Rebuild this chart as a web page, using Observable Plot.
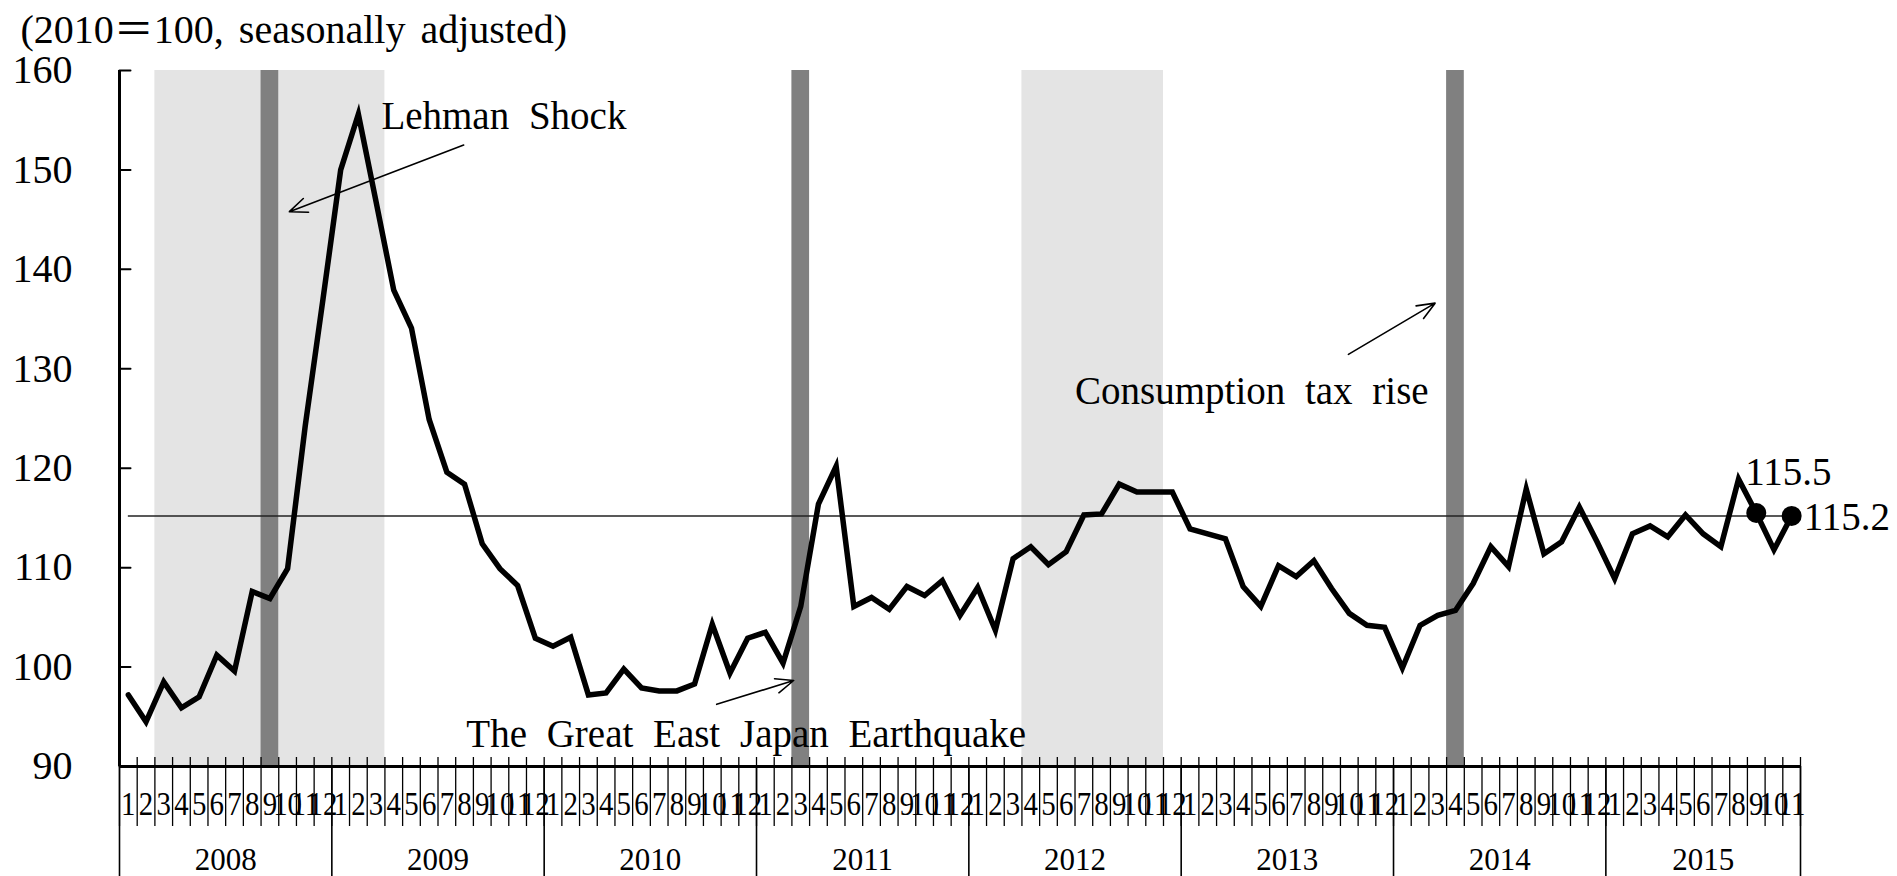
<!DOCTYPE html>
<html>
<head>
<meta charset="utf-8">
<script src="https://cdn.jsdelivr.net/npm/d3@7"></script>
<script src="https://cdn.jsdelivr.net/npm/@observablehq/plot@0.6"></script>
<style>
  html, body { margin: 0; padding: 0; background: #fff; }
</style>
</head>
<body>
<div id="chart"></div>
<script>
// ---------- data ----------
const years = [2008, 2009, 2010, 2011, 2012, 2013, 2014, 2015];
const monthsInYear = [12, 12, 12, 12, 12, 12, 12, 11];

const values2008 = [97.2, 94.5, 98.5, 95.9, 97.0, 101.2, 99.6, 107.6, 106.9, 109.9, 124.3, 137.0];
const values2009 = [150.0, 155.6, 146.8, 137.9, 134.1, 124.9, 119.6, 118.4, 112.4, 109.9, 108.2, 102.9];
const values2010 = [102.1, 103.0, 97.2, 97.4, 99.8, 97.9, 97.6, 97.6, 98.3, 104.3, 99.4, 102.9];
const values2011 = [103.5, 100.4, 106.1, 116.4, 120.2, 106.1, 107.0, 105.8, 108.1, 107.2, 108.7, 105.2];
const values2012 = [108.0, 103.7, 110.9, 112.1, 110.3, 111.6, 115.3, 115.4, 118.4, 117.6, 117.6, 117.6];
const values2013 = [113.9, 113.4, 112.9, 108.1, 106.1, 110.2, 109.1, 110.7, 107.9, 105.4, 104.2, 104.0];
const values2014 = [99.9, 104.2, 105.2, 105.7, 108.4, 112.1, 110.1, 117.9, 111.4, 112.6, 116.1, 112.6];
const values2015 = [108.9, 113.4, 114.2, 113.1, 115.3, 113.4, 112.1, 118.9, 115.5, 111.8, 115.2];

const yTicks = [90, 100, 110, 120, 130, 140, 150, 160];
const averageLevel = 115.2;

const shadedFrom = ["2008-03", "2012-04"];
const shadedTo   = ["2009-03", "2012-11"];
const eventMonths = ["2008-09", "2011-03", "2014-04"];
const highlightMonths = ["2015-09", "2015-11"];

const subtitle = "(2010＝100, seasonally adjusted)";
const labelLehman = "Lehman Shock";
const labelQuake = "The Great East Japan Earthquake";
const labelTax = "Consumption tax rise";

// ---------- derived tables ----------
const allValues = [values2008, values2009, values2010, values2011, values2012, values2013, values2014, values2015];
const series = [];
allValues.forEach((arr, yi) => arr.forEach((v, m) => series.push({i: series.length, year: years[yi], month: m + 1, v})));
const nMonths = series.length; // 95

const idx = (s) => { const [y, m] = s.split("-").map(Number); return (y - years[0]) * 12 + (m - 1); };

const bands = shadedFrom.map((s, k) => ({x1: idx(s), x2: idx(shadedTo[k]) + 1}));
const events = eventMonths.map(s => ({x1: idx(s), x2: idx(s) + 1}));
const highlights = highlightMonths.map(s => series[idx(s)]);

const monthBounds = d3.range(0, nMonths + 1);
const monthCenters = series.map(d => d.i + 0.5);
const yearStarts = [];
{ let acc = 0; monthsInYear.forEach(n => { yearStarts.push(acc); acc += n; }); yearStarts.push(acc); }
const yearCenters = years.map((y, k) => (yearStarts[k] + yearStarts[k + 1]) / 2);

const serif = "'Liberation Serif', 'Times New Roman', Times, 'Noto Sans CJK JP', serif";

const tickShape = {draw(ctx, l) { ctx.moveTo(0, 0); ctx.lineTo(0, -l); }};

const svg = Plot.plot({
  width: 1897,
  height: 876,
  marginLeft: 119,
  marginRight: 97,
  marginTop: 70,
  marginBottom: 110,
  style: {fontFamily: serif, background: "white", color: "black", wordSpacing: "10px", overflow: "visible"},
  x: {type: "linear", domain: [0, nMonths], axis: null},
  y: {type: "linear", domain: [90, 160], axis: null},
  marks: [
    // shaded periods
    Plot.rect(bands, {x1: "x1", x2: "x2", y1: 90, y2: 160, fill: "#e4e4e4"}),
    // event bars
    Plot.rect(events, {x1: "x1", x2: "x2", y1: 90, y2: 160, fill: "#808080"}),
    // average reference line
    Plot.ruleY([averageLevel], {x1: series[0].i + 0.5, x2: series[nMonths - 1].i + 0.5, stroke: "#222", strokeWidth: 1.6}),
    // main series
    Plot.line(series, {x: d => d.i + 0.5, y: "v", stroke: "black", strokeWidth: 5.5, strokeLinejoin: "miter", strokeMiterlimit: 10}),
    Plot.dot(highlights, {x: d => d.i + 0.5, y: "v", r: 10, fill: "black", stroke: null}),
    Plot.text([highlights[0]], {x: d => d.i + 0.5, y: "v", text: d => d.v.toFixed(1), textAnchor: "start", dx: -11, dy: -40, fontSize: 39}),
    Plot.text([highlights[1]], {x: d => d.i + 0.5, y: "v", text: d => d.v.toFixed(1), textAnchor: "start", dx: 12, dy: 2, fontSize: 39}),

    // y axis
    Plot.ruleX([0], {y1: 90, y2: 160, stroke: "black", strokeWidth: 3}),
    Plot.vector(yTicks, {x: 0, y: d => d, length: 11, rotate: 90, anchor: "start", shape: tickShape, stroke: "black", strokeWidth: 2}),
    Plot.axisY(yTicks, {anchor: "left", label: null, tickSize: 0, tickPadding: 47, fontSize: 40, tickFormat: d => String(d)}),

    // x axis
    Plot.axisX(monthBounds, {anchor: "bottom", label: null, tickSize: 69, dy: -9, tickFormat: () => "", strokeWidth: 1.3}),
    Plot.axisX(yearStarts, {anchor: "bottom", label: null, tickSize: 110, tickFormat: () => "", strokeWidth: 1.6}),
    Plot.ruleY([90], {x1: 0, x2: nMonths, stroke: "black", strokeWidth: 3}),
    Plot.axisX(monthCenters, {anchor: "bottom", label: null, tickSize: 0, tickPadding: 24, fontSize: 34, tickFormat: d => String(series[Math.floor(d)].month)}),
    Plot.axisX(yearCenters, {anchor: "bottom", label: null, tickSize: 0, tickPadding: 81, fontSize: 31, tickFormat: d => String(years[yearCenters.indexOf(d)])}),

    // annotations
    Plot.text([labelLehman], {x: 14.8, y: 155.4, text: d => d, textAnchor: "start", fontSize: 39}),
    Plot.arrow([0], {x1: 19.45, y1: 152.5, x2: 9.6, y2: 145.8, stroke: "black", strokeWidth: 1.6, headLength: 18, headAngle: 45}),
    Plot.text([labelQuake], {x: 19.6, y: 93.2, text: d => d, textAnchor: "start", fontSize: 39}),
    Plot.arrow([0], {x1: 33.75, y1: 96.25, x2: 38.1, y2: 98.65, stroke: "black", strokeWidth: 1.6, headLength: 18, headAngle: 45}),
    Plot.text([labelTax], {x: 54.0, y: 127.7, text: d => d, textAnchor: "start", fontSize: 39}),
    Plot.arrow([0], {x1: 69.45, y1: 131.45, x2: 74.35, y2: 136.6, stroke: "black", strokeWidth: 1.6, headLength: 18, headAngle: 45}),

    // subtitle
    Plot.text([subtitle], {frameAnchor: "top-left", lineAnchor: "middle", dx: -99, dy: -40, text: d => d, textAnchor: "start", fontSize: 40})
  ]
});

// condense the month labels horizontally, as in the original
svg.querySelectorAll('g[font-size="34"] text').forEach(t => {
  let tr = t.getAttribute("transform");
  if (!tr) {
    const x = t.getAttribute("x") || 0, y = t.getAttribute("y") || 0;
    t.removeAttribute("x"); t.removeAttribute("y");
    tr = `translate(${x},${y})`;
  }
  t.setAttribute("transform", tr + " scale(0.85,1)");
});
// tighter word spacing in the subtitle
svg.querySelectorAll('g[font-size="40"] text').forEach(t => {
  if (t.textContent === subtitle) t.style.wordSpacing = "5px";
});

document.getElementById("chart").appendChild(svg);
</script>
</body>
</html>
